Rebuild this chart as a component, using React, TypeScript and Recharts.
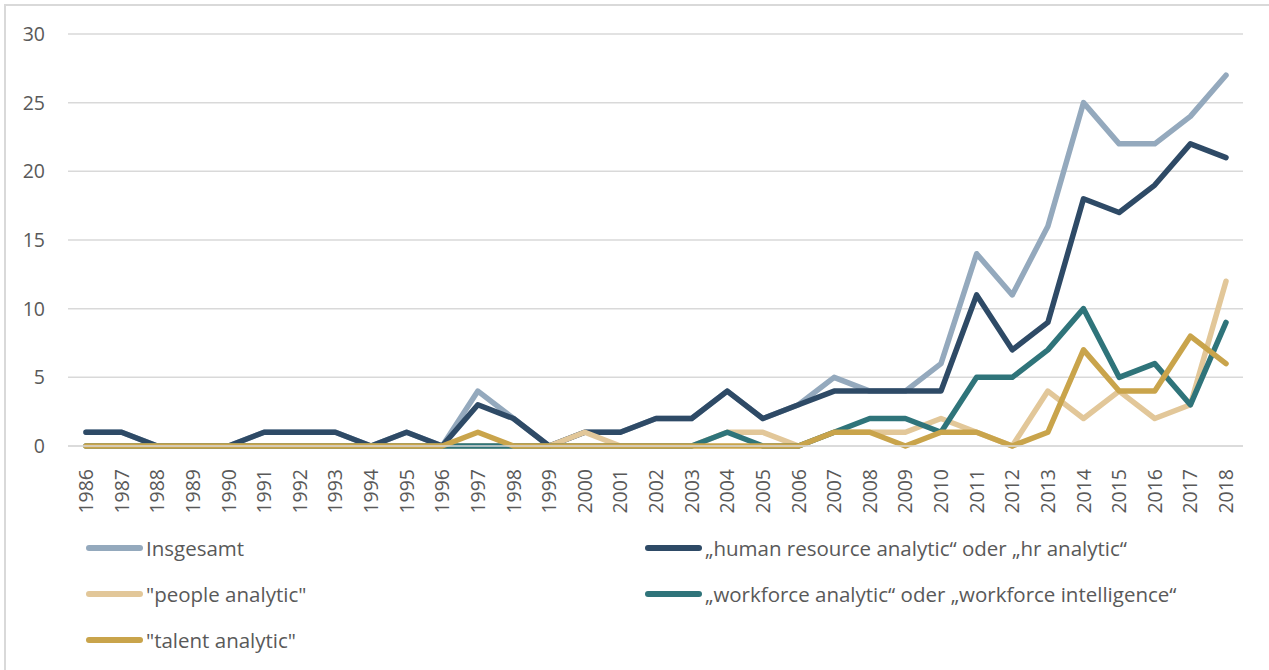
import React from 'react';
import { LineChart, Line, XAxis, YAxis, CartesianGrid } from 'recharts';

const years = [
  '1986', '1987', '1988', '1989', '1990', '1991', '1992', '1993', '1994', '1995', '1996',
  '1997', '1998', '1999', '2000', '2001', '2002', '2003', '2004', '2005', '2006', '2007',
  '2008', '2009', '2010', '2011', '2012', '2013', '2014', '2015', '2016', '2017', '2018'
];

const insgesamt = [1, 1, 0, 0, 0, 1, 1, 1, 0, 1, 0, 4, 2, 0, 1, 1, 2, 2, 4, 2, 3, 5, 4, 4, 6, 14, 11, 16, 25, 22, 22, 24, 27];
const hrAnalytic = [1, 1, 0, 0, 0, 1, 1, 1, 0, 1, 0, 3, 2, 0, 1, 1, 2, 2, 4, 2, 3, 4, 4, 4, 4, 11, 7, 9, 18, 17, 19, 22, 21];
const peopleAnalytic = [0, 0, 0, 0, 0, 0, 0, 0, 0, 0, 0, 0, 0, 0, 1, 0, 0, 0, 1, 1, 0, 1, 1, 1, 2, 1, 0, 4, 2, 4, 2, 3, 12];
const workforceAnalytic = [0, 0, 0, 0, 0, 0, 0, 0, 0, 0, 0, 0, 0, 0, 0, 0, 0, 0, 1, 0, 0, 1, 2, 2, 1, 5, 5, 7, 10, 5, 6, 3, 9];
const talentAnalytic = [0, 0, 0, 0, 0, 0, 0, 0, 0, 0, 0, 1, 0, 0, 0, 0, 0, 0, 0, 0, 0, 1, 1, 0, 1, 1, 0, 1, 7, 4, 4, 8, 6];

const yTicks = [0, 5, 10, 15, 20, 25, 30];

const series = [
  { key: 'insgesamt', name: 'Insgesamt', color: '#94A9BD' },
  { key: 'hr', name: '\u201Ehuman resource analytic\u201C oder \u201Ehr analytic\u201C', color: '#2E4A66' },
  { key: 'people', name: '"people analytic"', color: '#E2C799' },
  { key: 'workforce', name: '\u201Eworkforce analytic\u201C oder \u201Eworkforce intelligence\u201C', color: '#2F747A' },
  { key: 'talent', name: '"talent analytic"', color: '#C9A44B' }
];

const data = years.map((year, i) => ({
  year,
  insgesamt: insgesamt[i],
  hr: hrAnalytic[i],
  people: peopleAnalytic[i],
  workforce: workforceAnalytic[i],
  talent: talentAnalytic[i]
}));

const FONT = '"Open Sans", sans-serif';
const TEXT = '#595959';

const YearTick = ({ x, y, payload }: any) => (
  <text
    transform={`translate(${x},${y + 15}) rotate(-90)`}
    textAnchor="end"
    dy="0.36em"
    fontSize={19.5}
    fontFamily={FONT}
    fill={TEXT}
  >
    {payload.value}
  </text>
);

const legendSlots = [
  { left: 86, top: 548 },
  { left: 645, top: 548 },
  { left: 86, top: 594 },
  { left: 645, top: 594 },
  { left: 86, top: 640 }
];

const App = () => {
  return (
    <div style={{ position: 'absolute', left: 0, top: 0, width: 1269, height: 670, overflow: 'hidden', background: '#fff', fontFamily: FONT }}>
      <div style={{ position: 'absolute', left: 4, top: 4, width: 1300, height: 700, borderTop: '2px solid #D9D9D9', borderLeft: '2px solid #D9D9D9' }} />
      <div style={{ position: 'absolute', left: 0, top: 0 }}>
        <LineChart width={1269} height={520} data={data} margin={{ top: 34, right: 26, left: 0, bottom: 14 }}>
          <CartesianGrid vertical={false} stroke="#D9D9D9" strokeWidth={1.5} />
          <XAxis
            dataKey="year"
            interval={0}
            padding={{ left: 18, right: 17 }}
            axisLine={{ stroke: '#D9D9D9', strokeWidth: 1.5 }}
            tickLine={false}
            tick={<YearTick />}
            height={60}
          />
          <YAxis
            domain={[0, 30]}
            ticks={yTicks}
            width={68}
            axisLine={false}
            tickLine={false}
            tickSize={0}
            tickMargin={23}
            tick={{ fontSize: 19.5, fontFamily: FONT, fill: TEXT }}
          />
          {series.map((s) => (
            <Line
              key={s.key}
              dataKey={s.key}
              name={s.name}
              stroke={s.color}
              strokeWidth={5.5}
              strokeLinejoin="round"
              strokeLinecap="round"
              dot={false}
              activeDot={false}
              isAnimationActive={false}
            />
          ))}
        </LineChart>
      </div>
      {series.map((s, i) => (
        <div
          key={s.key}
          style={{ position: 'absolute', left: legendSlots[i].left, top: legendSlots[i].top, transform: 'translateY(-50%)', display: 'flex', alignItems: 'center', whiteSpace: 'nowrap' }}
        >
          <div style={{ width: 57, height: 6, borderRadius: 3, background: s.color, marginRight: 3 }} />
          <span style={{ fontSize: 20.5, color: TEXT }}>{s.name}</span>
        </div>
      ))}
    </div>
  );
};

export default App;
